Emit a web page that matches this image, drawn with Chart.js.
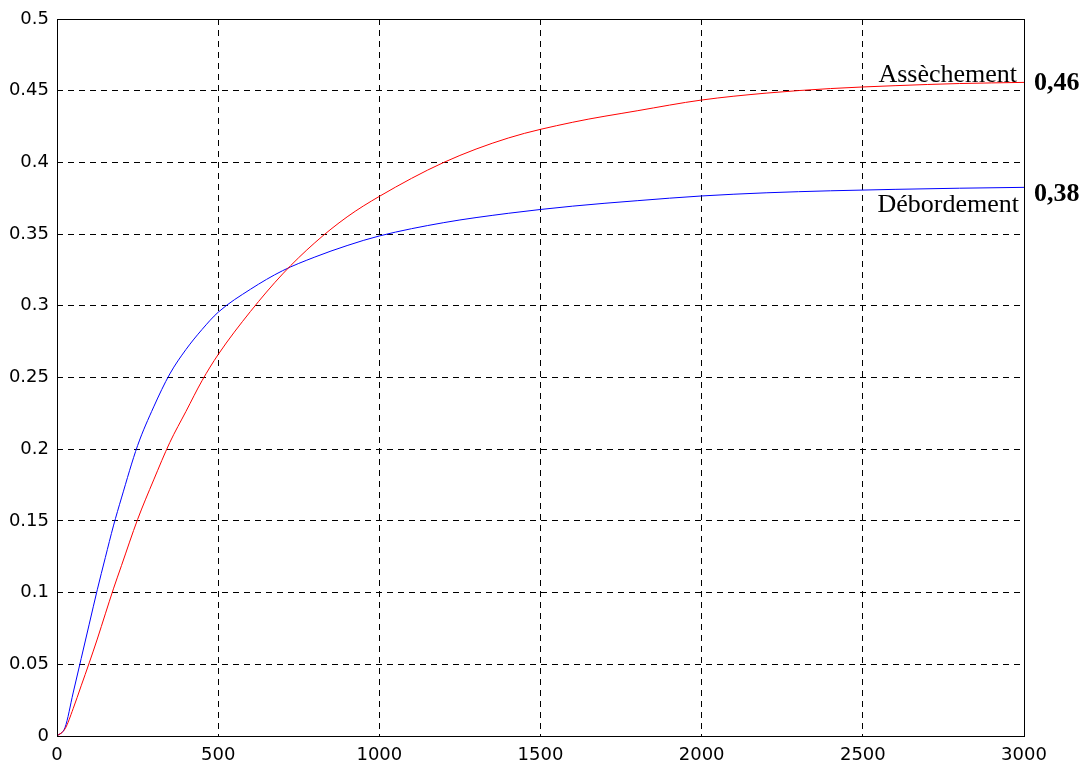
<!DOCTYPE html>
<html>
<head>
<meta charset="utf-8">
<script src="https://cdn.jsdelivr.net/npm/chart.js@4/dist/chart.umd.min.js"></script>
<style>
html,body{margin:0;padding:0;background:#fff;}
#wrap{width:1090px;height:762px;}
</style>
</head>
<body>
<div id="wrap"><canvas id="c" width="1090" height="762"></canvas></div>
<script>
// Data
const times = [0, 25, 50, 75, 100, 125, 150, 175, 200, 250, 300, 350, 400, 450, 500, 600, 700, 800, 900, 1000, 1200, 1400, 1600, 1800, 2000, 2200, 2400, 2600, 2800, 3000];
const debordement = [0, 0.006, 0.030, 0.054, 0.078, 0.102, 0.1245, 0.1465, 0.166, 0.2025, 0.2295, 0.2525, 0.2695, 0.2835, 0.2955, 0.3115, 0.3245, 0.334, 0.342, 0.3487, 0.358, 0.3645, 0.3695, 0.3733, 0.3766, 0.3788, 0.3802, 0.3812, 0.382, 0.3826];
const assechement = [0, 0.005, 0.019, 0.035, 0.051, 0.0676, 0.0852, 0.1026, 0.1188, 0.151, 0.1786, 0.2047, 0.2263, 0.2478, 0.2660, 0.2960, 0.3222, 0.344, 0.362, 0.3763, 0.400, 0.417, 0.428, 0.436, 0.4435, 0.4483, 0.4515, 0.4535, 0.455, 0.4558];
const seriesNames = ['Assèchement', 'Débordement'];
const endLabels = ['0,46', '0,38'];
const xTicks = [0, 500, 1000, 1500, 2000, 2500, 3000];
const yTicks = [0, 0.05, 0.1, 0.15, 0.2, 0.25, 0.3, 0.35, 0.4, 0.45, 0.5];

const toPts = (ys) => times.map((t, i) => ({x: t, y: ys[i]}));

const annot = {
  id: 'annot',
  afterDraw(chart) {
    const ctx = chart.ctx;
    const a = chart.chartArea;
    const ys = chart.scales.y;
    ctx.save();
    // box
    ctx.strokeStyle = '#000';
    ctx.lineWidth = 1;
    ctx.strokeRect(a.left + 0.5, a.top + 0.5, a.right - a.left, a.bottom - a.top);
    // series labels
    const yr = ys.getPixelForValue(assechement[assechement.length - 1]);
    const yb = ys.getPixelForValue(debordement[debordement.length - 1]);
    ctx.fillStyle = '#000';
    ctx.font = '26px "Liberation Serif", "Times New Roman", serif';
    ctx.textAlign = 'right';
    ctx.textBaseline = 'alphabetic';
    ctx.fillText(seriesNames[0], a.right - 7, yr - 0.5);
    ctx.fillText(seriesNames[1], a.right - 5, yb + 24.5);
    ctx.font = 'bold 26px "Liberation Serif", "Times New Roman", serif';
    ctx.textAlign = 'left';
    ctx.fillText(endLabels[0], a.right + 10, yr + 8);
    ctx.fillText(endLabels[1], a.right + 10, yb + 13.5);
    ctx.restore();
  }
};

const gridColor = (ctx) => {
  const s = ctx.scale;
  if (!ctx.tick) return '#000';
  return (ctx.tick.value === s.min || ctx.tick.value === s.max) ? 'rgba(0,0,0,0)' : '#000';
};

new Chart(document.getElementById('c'), {
  type: 'line',
  data: {
    datasets: [
      {label: seriesNames[0], data: toPts(assechement), borderColor: '#ff0000', borderWidth: 1, pointRadius: 0, cubicInterpolationMode: 'monotone', fill: false},
      {label: seriesNames[1], data: toPts(debordement), borderColor: '#0000ff', borderWidth: 1, pointRadius: 0, cubicInterpolationMode: 'monotone', fill: false}
    ]
  },
  options: {
    responsive: false,
    animation: false,
    devicePixelRatio: 1,
    layout: {padding: {top: 19, right: 66, left: 0, bottom: 0}},
    plugins: {legend: {display: false}, tooltip: {enabled: false}},
    scales: {
      x: {
        type: 'linear', min: 0, max: 3000,
        afterBuildTicks: (s) => { s.ticks = xTicks.map(v => ({value: v})); },
        afterFit: (s) => { s.height = 26; },
        grid: {color: gridColor, lineWidth: 1, drawTicks: false},
        border: {display: false, dash: [6, 5]},
        ticks: {color: '#000', padding: 9, maxRotation: 0, font: {family: '"DejaVu Sans", sans-serif', size: 18}, callback: (v) => String(v)}
      },
      y: {
        type: 'linear', min: 0, max: 0.5,
        afterBuildTicks: (s) => { s.ticks = yTicks.map(v => ({value: v})); },
        afterFit: (s) => { s.width = 57; },
        grid: {color: gridColor, lineWidth: 1, drawTicks: false},
        border: {display: false, dash: [6, 5]},
        ticks: {color: '#000', padding: 8, font: {family: '"DejaVu Sans", sans-serif', size: 18}, callback: (v) => String(Number(v.toFixed(2)))}
      }
    }
  },
  plugins: [annot]
});
</script>
</body>
</html>
